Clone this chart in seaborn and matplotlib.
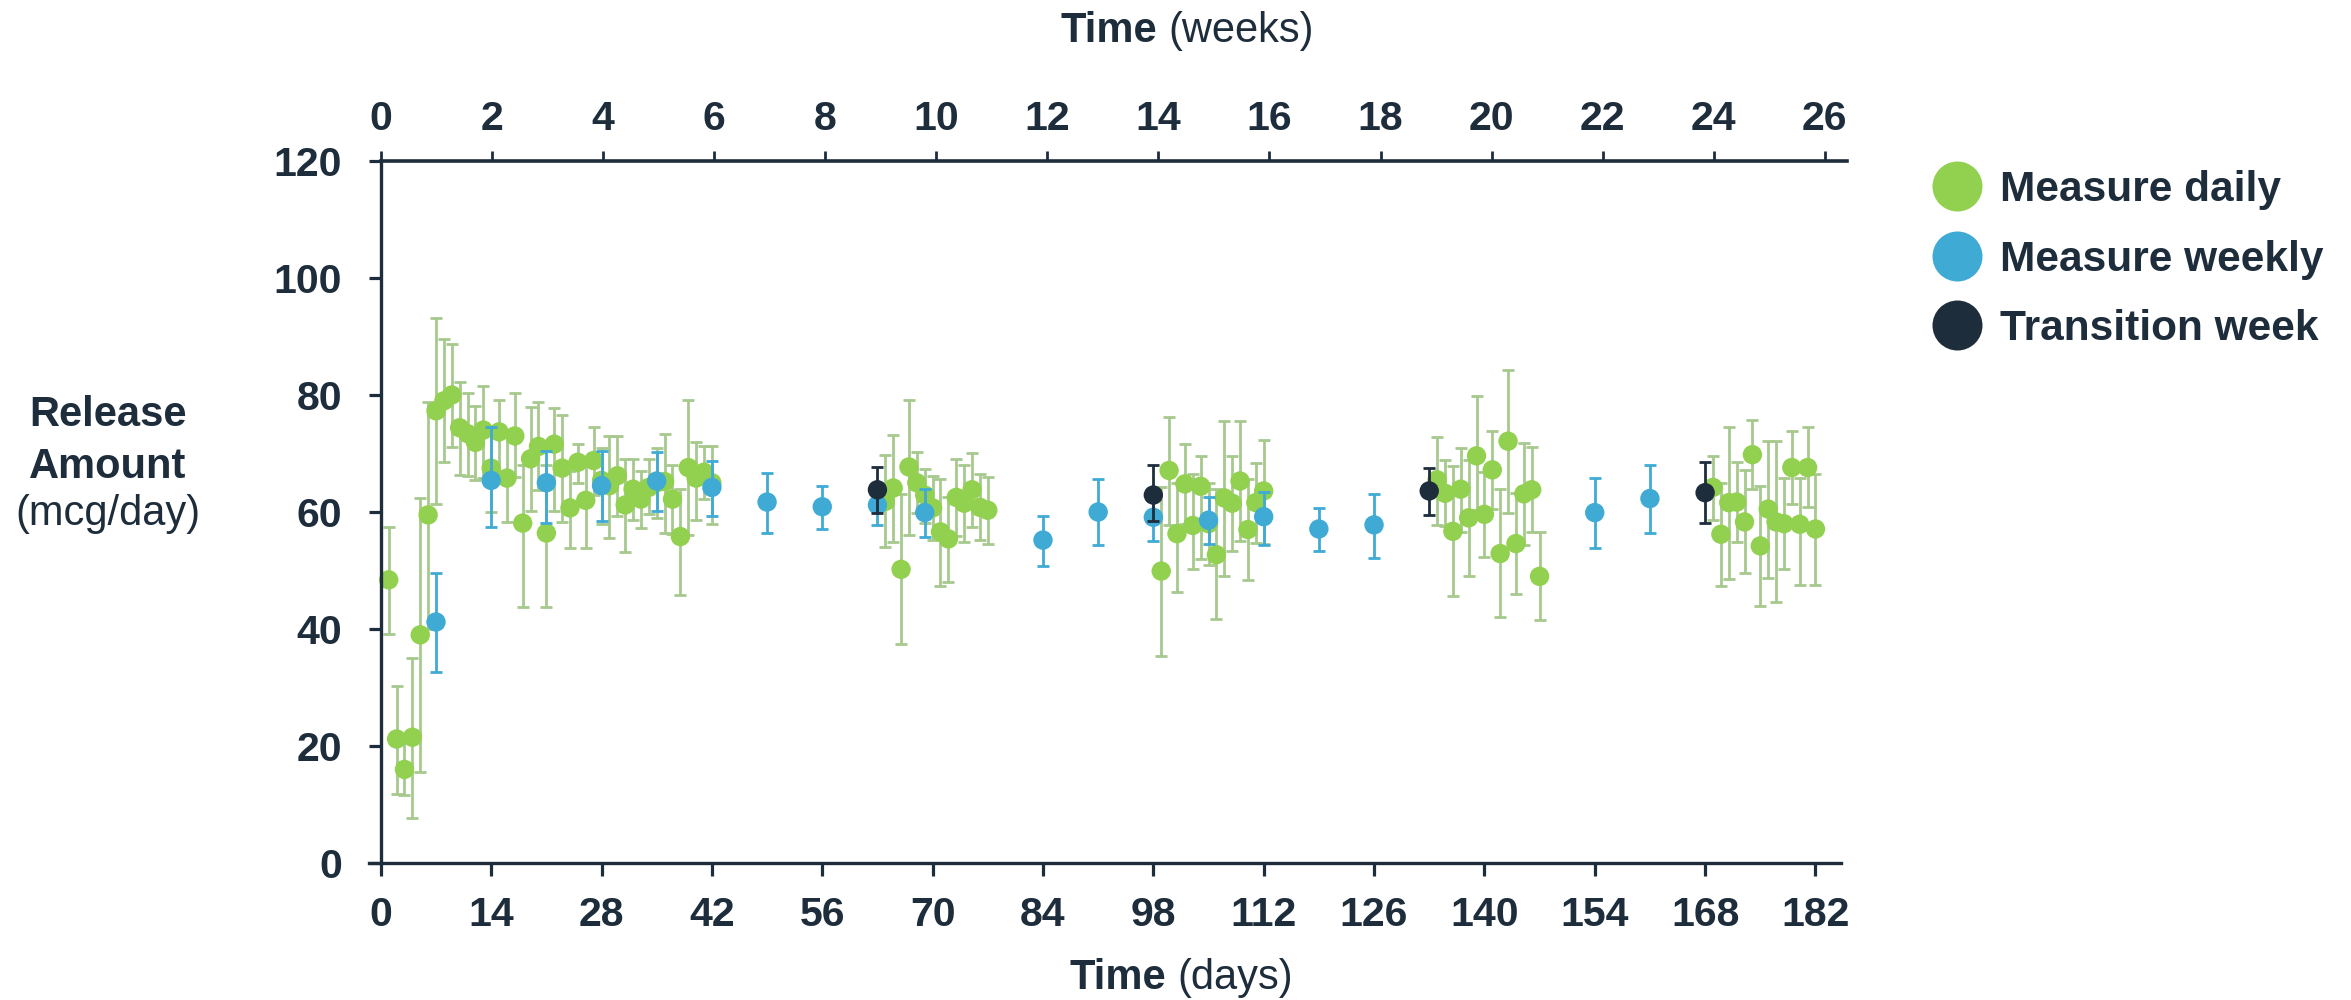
import numpy as np
import matplotlib
matplotlib.use("Agg")
import matplotlib.pyplot as plt
from matplotlib.lines import Line2D
from matplotlib.font_manager import FontProperties
import seaborn as sns

# ---------------- data ----------------
# Daily measurements: day, mean release (mcg/day), lower and upper error limits
daily_days = [
    1, 2, 3, 4, 5, 6, 7, 8, 9, 10, 11, 12, 13, 14, 15, 16, 17, 18, 19, 20, 21,
    22, 23, 24, 25, 26, 27, 28, 29, 30, 31, 32, 33, 34, 35, 36, 37, 38, 39, 40, 41, 42,
    64, 65, 66, 67, 68, 69, 70, 71, 72, 73, 74, 75, 76, 77,
    99, 100, 101, 102, 103, 104, 105, 106, 107, 108, 109, 110, 111, 112,
    134, 135, 136, 137, 138, 139, 140, 141, 142, 143, 144, 145, 146, 147,
    169, 170, 171, 172, 173, 174, 175, 176, 177, 178, 179, 180, 181, 182,
]
daily_mean = [
    48.4, 21.2, 16.0, 21.5, 39.0, 59.5, 77.3, 79.0, 80.0, 74.4, 73.4, 71.9, 74.0, 67.5, 73.7, 65.8, 73.0, 58.1, 69.1, 71.2, 56.4,
    71.6, 67.5, 60.7, 68.5, 62.0, 68.8, 65.4, 64.5, 66.2, 61.2, 63.9, 62.2, 64.2, 65.0, 65.2, 62.2, 55.8, 67.6, 65.8, 66.8, 65.0,
    61.8, 64.1, 50.2, 67.7, 65.0, 62.9, 60.7, 56.6, 55.4, 62.5, 61.5, 63.8, 60.8, 60.3,
    49.9, 67.1, 56.3, 64.8, 57.7, 64.4, 58.0, 52.7, 62.4, 61.5, 65.3, 57.0, 61.6, 63.6,
    65.5, 63.2, 56.7, 63.9, 59.0, 69.6, 59.6, 67.2, 52.9, 72.1, 54.6, 63.1, 63.8, 49.0,
    64.2, 56.2, 61.6, 61.7, 58.3, 69.8, 54.2, 60.5, 58.3, 58.0, 67.6, 57.9, 67.6, 57.1,
]
daily_low = [
    39.2, 11.8, 11.6, 7.7, 15.6, 40.0, 61.4, 68.5, 71.1, 66.4, 66.2, 65.5, 65.8, 60.0, 66.0, 58.3, 66.0, 43.8, 60.1, 63.7, 43.7,
    60.1, 58.3, 53.8, 65.0, 53.8, 62.9, 58.0, 55.6, 59.4, 53.2, 58.7, 57.3, 59.7, 59.0, 56.4, 56.3, 45.8, 56.0, 58.7, 62.2, 57.9,
    54.0, 54.8, 37.4, 56.1, 59.8, 58.1, 55.2, 47.3, 48.0, 55.9, 54.9, 57.5, 55.2, 54.6,
    35.3, 57.7, 46.3, 57.9, 50.3, 51.9, 51.0, 41.7, 49.1, 53.3, 55.1, 48.3, 54.7, 54.5,
    57.8, 57.6, 45.7, 56.6, 49.0, 60.3, 52.3, 60.5, 42.1, 59.9, 45.9, 54.3, 56.5, 41.5,
    58.6, 47.3, 48.5, 54.9, 49.6, 64.0, 43.9, 48.7, 44.6, 50.3, 61.3, 47.6, 60.8, 47.6,
]
daily_high = [
    57.4, 30.2, 21.0, 35.0, 62.4, 78.8, 93.2, 89.5, 88.8, 82.3, 80.3, 78.2, 81.5, 74.5, 79.1, 73.0, 80.3, 68.0, 78.0, 78.8, 68.0,
    77.8, 76.6, 67.0, 71.7, 69.0, 74.6, 71.0, 73.0, 73.0, 69.1, 69.0, 67.0, 69.1, 71.0, 73.4, 68.0, 64.0, 79.2, 71.9, 71.3, 71.3,
    69.8, 73.1, 63.0, 79.2, 70.2, 67.4, 66.2, 65.7, 62.6, 69.1, 68.0, 70.1, 66.5, 66.0,
    64.3, 76.3, 65.0, 71.6, 66.5, 69.5, 65.0, 63.9, 75.5, 69.5, 75.5, 65.6, 68.4, 72.3,
    72.9, 68.9, 67.8, 71.0, 68.9, 79.9, 66.9, 73.9, 63.9, 84.2, 63.2, 71.8, 71.1, 56.5,
    69.5, 64.9, 74.6, 68.5, 67.1, 75.7, 64.5, 72.1, 72.1, 65.8, 73.8, 65.8, 74.5, 66.5,
]

# Weekly measurements
weekly_days = [7, 14, 21, 28, 35, 42, 49, 56, 63, 69, 84, 91, 98, 105, 112, 119, 126, 154, 161]
weekly_mean = [41.2, 65.4, 65.0, 64.5, 65.3, 64.2, 61.7, 60.9, 61.2, 59.9, 55.2, 60.0, 59.1, 58.6, 59.2, 57.1, 57.8, 59.9, 62.3]
weekly_low = [32.7, 57.4, 58.1, 58.4, 60.2, 59.4, 56.4, 57.1, 57.8, 55.8, 50.7, 54.3, 55.1, 54.6, 54.3, 53.3, 52.2, 53.8, 56.4]
weekly_high = [49.5, 74.5, 70.4, 70.4, 70.3, 68.7, 66.7, 64.5, 64.5, 64.0, 59.4, 65.6, 63.0, 62.5, 63.5, 60.7, 63.1, 65.8, 68.0]

# Transition weeks
transition_days = [63, 98, 133, 168]
transition_mean = [63.8, 62.9, 63.6, 63.3]
transition_low = [59.8, 58.5, 59.5, 58.1]
transition_high = [67.7, 68.1, 67.5, 68.5]

day_ticks = list(range(0, 183, 14))
week_ticks = list(range(0, 27, 2))
y_ticks = list(range(0, 121, 20))
legend_labels = ["Measure daily", "Measure weekly", "Transition week"]

# ---------------- style ----------------
GREEN = "#92D050"
GREEN_ERR = "#A7C98D"
BLUE = "#3FAAD4"
DARK = "#1E2D3B"
FONT = ["Liberation Sans", "DejaVu Sans"]

sns.set_theme(style="ticks")
plt.rcParams["font.family"] = FONT
plt.rcParams["text.color"] = DARK

W, H = 2351, 1000
fig = plt.figure(figsize=(W / 100, H / 100), dpi=100)
ax = fig.add_axes([369 / W, 1 - 863 / H, (1847 - 369) / W, (863 - 161) / H])


def draw_series(days, mean, low, high, color, ecolor, z):
    days = np.asarray(days, float)
    mean = np.asarray(mean, float)
    yerr = [mean - np.asarray(low, float), np.asarray(high, float) - mean]
    ax.errorbar(days, mean, yerr=yerr, fmt="none", ecolor=ecolor,
                elinewidth=2.0, capsize=4.4, capthick=2.0, zorder=z)
    sns.scatterplot(x=days, y=mean, ax=ax, color=color, s=195,
                    linewidth=0, edgecolor="none", zorder=z + 0.5, legend=False)


draw_series(daily_days, daily_mean, daily_low, daily_high, GREEN, GREEN_ERR, 2)
draw_series(weekly_days, weekly_mean, weekly_low, weekly_high, BLUE, BLUE, 4)
draw_series(transition_days, transition_mean, transition_low, transition_high, DARK, DARK, 6)

# ---------------- axes ----------------
ax.set_xlim(-1.5, 186.0)
ax.set_ylim(0, 120)
ax.set_xlabel("")
ax.set_ylabel("")
ax.spines["left"].set_position(("data", 0))
ax.spines["right"].set_visible(False)
ax.spines["top"].set_visible(False)
ax.spines["bottom"].set_bounds(-1.5, 185.3)
for s in ("left", "bottom"):
    ax.spines[s].set_linewidth(2.4)
    ax.spines[s].set_color(DARK)

ax.set_xticks(day_ticks)
ax.set_xticklabels([str(t) for t in day_ticks], fontweight="bold", fontsize=29.5, color=DARK)
ax.set_yticks(y_ticks)
ax.set_yticklabels([str(t) for t in y_ticks], fontweight="bold", fontsize=29.5, color=DARK)
ax.tick_params(axis="x", direction="out", length=9, width=2.3, color=DARK, pad=15)
ax.tick_params(axis="y", direction="out", length=9, width=2.3, color=DARK, pad=19)

ax2 = ax.twiny()
ax2.set_xlim(-0.216, 26.4)
for s in ("left", "right", "bottom"):
    ax2.spines[s].set_visible(False)
ax2.spines["top"].set_bounds(0, 26.4)
ax2.spines["top"].set_linewidth(2.6)
ax2.spines["top"].set_color(DARK)
ax2.set_xticks(week_ticks)
ax2.set_xticklabels([str(t) for t in week_ticks], fontweight="bold", fontsize=29.5, color=DARK)
ax2.tick_params(axis="x", direction="out", length=7, width=2.0, color=DARK, pad=9.6)

# ---------------- labels ----------------
def fx(px):
    return px / W


def fy(py):
    return 1 - py / H


fig.text(fx(108), fy(426), "Release", ha="center", va="baseline", fontsize=30, fontweight="bold", color=DARK)
fig.text(fx(108), fy(478), "Amount", ha="center", va="baseline", fontsize=30, fontweight="bold", color=DARK)
fig.text(fx(108), fy(525), "(mcg/day)", ha="center", va="baseline", fontsize=30, color=DARK)

fig.text(fx(1157), fy(42), "Time", ha="right", va="baseline", fontsize=30, fontweight="bold", color=DARK)
fig.text(fx(1168), fy(42), "(weeks)", ha="left", va="baseline", fontsize=30, color=DARK)
fig.text(fx(1166), fy(989), "Time", ha="right", va="baseline", fontsize=30, fontweight="bold", color=DARK)
fig.text(fx(1177), fy(989), "(days)", ha="left", va="baseline", fontsize=30, color=DARK)

# ---------------- legend ----------------
handles = [
    Line2D([], [], marker="o", ls="none", markersize=36, markerfacecolor=c, markeredgewidth=0)
    for c in (GREEN, BLUE, DARK)
]
fig.legend(handles, legend_labels, loc="upper left", bbox_to_anchor=(fx(1932), fy(170)),
           frameon=False, prop=FontProperties(family=FONT, weight="bold", size=30.5),
           handlelength=1.18, handletextpad=0.43, labelspacing=0.7,
           borderpad=0, borderaxespad=0, labelcolor=DARK)

fig.savefig("out.png", dpi=100)
